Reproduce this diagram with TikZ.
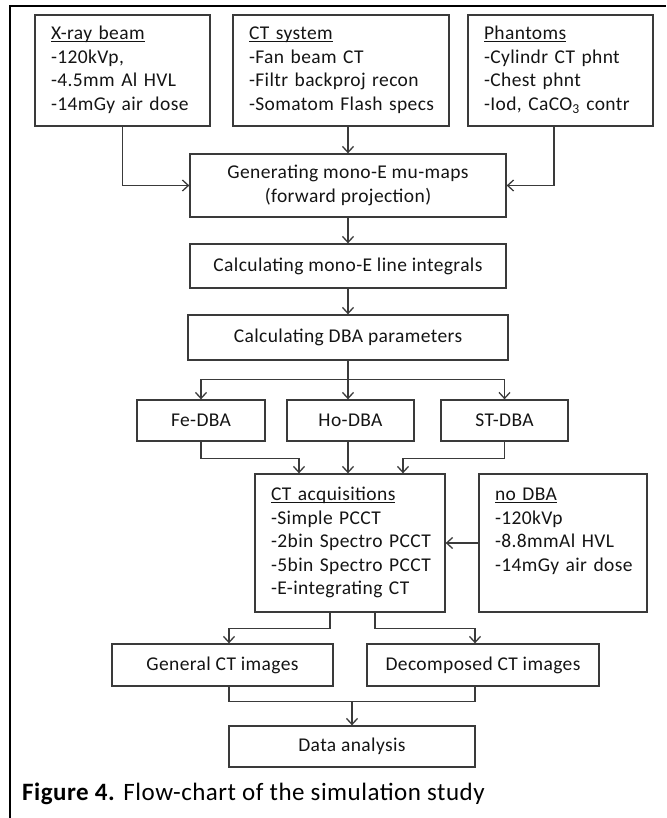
\documentclass[tikz,border=0pt]{standalone}
\usepackage{fontspec}
\setmainfont{Carlito}[LetterSpace = 2]
\usetikzlibrary{arrows.meta}

\definecolor{linegray}{HTML}{3A3A3A}
\definecolor{textgray}{HTML}{141414}

% underlined heading of a list box
\newcommand\ulhead[1]{\setbox0\hbox{#1}\rlap{\rule[-2pt]{\wd0}{0.9pt}}\box0}
% lines of a list box, never broken
\newcommand\listlines[1]{\begin{tabular}{@{}l@{}}#1\end{tabular}}

\tikzset{
    box/.style = {draw = linegray, line width = 1.3pt, text = textgray,
                  inner sep = 0pt, minimum height = 41pt,
                  font = \fontsize{19.5}{23.5}\selectfont},
    listbox/.style = {box, align = left, inner xsep = 16pt},
    line/.style = {draw = linegray, line width = 1.3pt},
    arr/.style = {line, -{Straight Barb[length = 6pt, width = 11pt]}}
}

\begin{document}
\begin{tikzpicture}[x = 1pt, y = -1pt]
            \useasboundingbox (0, 0) rectangle (666, 818);

            % frame of the figure
            \draw [line width = 2pt] (10, 818) -- (10, 6) -- (666, 6);

            % inputs
            \node [listbox, text width = 143pt, minimum height = 111pt]
                  (xray) at (122.5, 70.5)
                  {\listlines{\ulhead{X-ray beam}\\-120kVp,\\-4.5mm Al HVL\\-14mGy air dose}};
            \node [listbox, text width = 184pt, minimum height = 111pt]
                  (ctsys) at (341, 70.5)
                  {\listlines{\ulhead{CT system}\\-Fan beam CT\\-Filtr backproj recon\\-Somatom Flash specs}};
            \node [listbox, text width = 153pt, minimum height = 111pt]
                  (phant) at (560.5, 70.5)
                  {\listlines{\ulhead{Phantoms}\\-Cylindr CT phnt\\-Chest phnt\\-Iod, CaCO\textsubscript{3} contr}};

            % main chain
            \node [box, align = center, minimum width = 316pt, minimum height = 63pt]
                  (gen) at (348, 185.5)
                  {Generating mono-E mu-maps\\(forward projection)};
            \node [box, minimum width = 316pt, minimum height = 44pt]
                  (lineint) at (348, 266) {Calculating mono-E line integrals};
            \node [box, minimum width = 320pt, minimum height = 45pt]
                  (dbapar) at (348, 337.5) {Calculating DBA parameters};

            % DBA types
            \node [box, minimum width = 128pt] (fe) at (201, 420.5) {Fe-DBA};
            \node [box, minimum width = 127pt] (ho) at (350.5, 420.5) {Ho-DBA};
            \node [box, minimum width = 127pt] (st) at (504.5, 420.5) {ST-DBA};

            % acquisitions
            \node [listbox, text width = 158pt, minimum height = 138pt]
                  (ctacq) at (350, 543)
                  {\listlines{\ulhead{CT acquisitions}\\-Simple PCCT\\-2bin Spectro PCCT\\-5bin Spectro PCCT\\-E-integrating CT}};
            \node [listbox, text width = 136pt, minimum height = 138pt]
                  (nodba) at (563, 543)
                  {\listlines{\ulhead{no DBA}\\-120kVp\\-8.8mmAl HVL\\-14mGy air dose\\\mbox{}}};

            % results
            \node [box, minimum width = 221pt, minimum height = 42pt]
                  (genct) at (222.5, 665) {General CT images};
            \node [box, minimum width = 232pt, minimum height = 42pt]
                  (decomp) at (483, 665) {Decomposed CT images};
            \node [box, minimum width = 246pt] (data) at (352, 746.5) {Data analysis};

            \node [anchor = base west, inner sep = 0pt, text = black,
                   font = \fontsize{25}{30}\selectfont]
                  (caption) at (22, 800)
                  {\textbf{Figure 4.} Flow-chart of the simulation study};

            \draw [arr] (xray.south) |- (gen.west);
            \draw [arr] (ctsys.south -| gen.north) -- (gen.north);
            \draw [arr] ([xshift = -6.5pt]phant.south) |- (gen.east);
            \draw [arr] (gen) -- (lineint);
            \draw [arr] (lineint) -- (dbapar);

            \draw [line] (dbapar.south) -- ++(0, 19) coordinate (split);
            \draw [arr] (split) -| (fe.north);
            \draw [arr] (split) -- (split |- ho.north);
            \draw [arr] (split) -| (st.north);

            \draw [arr] (fe.south) -- ++(0, 17) -| ([xshift = -51pt]ctacq.north);
            \draw [arr] (ho.south -| split) -- (ctacq.north -| split);
            \draw [arr] (st.south) -- ++(0, 17) -| ([xshift = 53pt]ctacq.north);
            \draw [arr] (nodba) -- (ctacq); % no DBA -> acquisitions

            \draw [arr] ([xshift = -20pt]ctacq.south) -- ++(0, 16)
                  -| ([xshift = 6.5pt]genct.north);
            \draw [arr] ([xshift = 25pt]ctacq.south) -- ++(0, 16)
                  -| ([xshift = -8pt]decomp.north);

            \coordinate (merge) at ([yshift = 24pt]data.north);
            \draw [line] ([xshift = 6.5pt]genct.south) |- (merge);
            \draw [line] ([xshift = -8pt]decomp.south) |- (merge);
            \draw [arr] (merge) -- (data);
        \end{tikzpicture}
\end{document}
